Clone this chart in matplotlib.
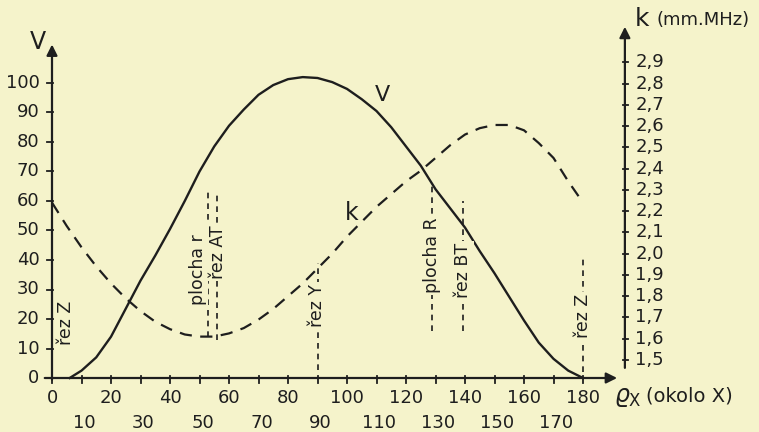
import numpy as np
from matplotlib import pyplot as plt

# V curve (left axis)
v_x = [6, 10, 15, 20, 25, 30, 35, 40, 45, 50, 55, 60, 65, 70, 75, 80, 85, 90,
       95, 100, 105, 110, 115, 120, 125, 130, 135, 140, 145, 150, 155, 160,
       165, 170, 175, 180]
v_y = [0, 2.5, 7, 14, 23.5, 33, 41.5, 50.5, 60, 70, 78.5, 85.5, 91, 96, 99.3,
       101.3, 102, 101.7, 100.3, 98, 94.5, 90.5, 85, 78.5, 72, 64, 57.5, 51,
       43, 35.5, 27.5, 19.5, 12, 6.5, 2.5, 0]

# k curve (right axis, mm.MHz)
k_x = [0, 5, 10, 15, 20, 25, 30, 35, 40, 45, 50, 55, 60, 65, 70, 75, 80, 85,
       90, 95, 100, 105, 110, 115, 120, 125, 130, 135, 140, 145, 150, 155,
       160, 165, 170, 175, 179]
k_y = [2.24, 2.13, 2.03, 1.94, 1.86, 1.79, 1.73, 1.68, 1.645, 1.62, 1.61, 1.61,
       1.625, 1.65, 1.69, 1.74, 1.80, 1.86, 1.93, 2.0, 2.08, 2.15, 2.22, 2.28,
       2.34, 2.39, 2.45, 2.51, 2.56, 2.59, 2.605, 2.605, 2.58, 2.52, 2.45,
       2.34, 2.26]

# cut markers: line position, label, label position, line from/to (V units)
cut_x = [52.9, 55.9, 90, 128.8, 139.4, 180]
cut_labels = ['plocha r', 'řez AT', 'řez Y', 'plocha R', 'řez BT', 'řez Z']
cut_text_x = [49.4, 56.2, 90, 128.8, 139.4, 180]
cut_lo = [13.9, 12.9, 2.7, 16, 16, 2]
cut_hi = [63, 63, 39, 66, 60, 40.7]
cut_mid = [36.6, 42.7, 24.7, 41.7, 36.6, 21]

v_ticks = [0, 10, 20, 30, 40, 50, 60, 70, 80, 90, 100]
k_ticks = [1.5, 1.6, 1.7, 1.8, 1.9, 2.0, 2.1, 2.2, 2.3, 2.4, 2.5, 2.6, 2.7, 2.8, 2.9]
x_ticks = list(range(0, 190, 10))

bg = '#f5f3cb'
ink = '#1e1e1e'
X_RIGHT = 194.2  # where the k axis stands


def k2v(k):
    return 6.1 + (np.asarray(k) - 1.5) * 72.1


fig = plt.figure(figsize=(7.59, 4.32), dpi=100, facecolor=bg)
ax = fig.add_axes([0, 0, 1, 1])
ax.set_facecolor(bg)
ax.set_xlim(-52 / 2.95, (759 - 52) / 2.95)
ax.set_ylim(-54 / 2.95, (432 - 54) / 2.95)
ax.axis('off')

font = dict(family='DejaVu Sans', color=ink)

# axes with arrows
arrow = dict(arrowstyle='-|>', lw=1.6, color=ink, mutation_scale=16)
ax.annotate('', xy=(0, 114), xytext=(0, -1.5), arrowprops=arrow)
ax.annotate('', xy=(192.5, 0), xytext=(-3.4, 0), arrowprops=arrow)
ax.annotate('', xy=(X_RIGHT, 120), xytext=(X_RIGHT, k2v(1.45)), arrowprops=arrow)

# left ticks
for v in v_ticks:
    ax.plot([-1.8, 0.4], [v, v], color=ink, lw=1.3)
    ax.text(-4.2, v, str(v), ha='right', va='center', fontsize=13, **font)

# right ticks
for k in k_ticks:
    yv = k2v(k)
    ax.plot([X_RIGHT - 0.7, X_RIGHT + 1.2], [yv, yv], color=ink, lw=1.3)
    ax.text(X_RIGHT + 3.5, yv, f'{k:.1f}'.replace('.', ','), ha='left',
            va='center', fontsize=13, **font)

# bottom ticks, two rows of labels
for t in x_ticks:
    ax.plot([t, t], [-1.8, 0.6], color=ink, lw=1.3)
    if t % 20 == 0:
        ax.text(t, -6.8, str(t), ha='center', va='center', fontsize=13, **font)
    else:
        ax.text(t + 1, -15.2, str(t), ha='center', va='center', fontsize=13, **font)

# curves
ax.plot(v_x, v_y, color=ink, lw=1.7, solid_joinstyle='round')
ax.plot(k_x, k2v(k_y), color=ink, lw=1.6, dashes=(5.5, 3.8))

# cut lines with labels
for x, lab, tx, lo, hi, mid in zip(cut_x, cut_labels, cut_text_x, cut_lo,
                                   cut_hi, cut_mid):
    ax.plot([x, x], [lo, hi], color=ink, lw=1.2, dashes=(3.4, 3.0))
    ax.text(tx, mid, lab, rotation=90, ha='center', va='center', fontsize=12.5,
            bbox=dict(boxstyle='square,pad=0.1', fc=bg, ec='none'), **font)
ax.text(4.6, 18.6, 'řez Z', rotation=90, ha='center', va='center',
        fontsize=12.5, **font)

# axis names and curve names
ax.text(-4.8, 114, 'V', ha='center', va='center', fontsize=17, **font)
ax.text(112, 96, 'V', ha='center', va='center', fontsize=16, **font)
ax.text(101.5, 56, 'k', ha='center', va='center', fontsize=17, **font)
ax.text(197.5, 121.8, 'k', ha='left', va='center', fontsize=18, **font)
ax.text(205, 121.5, '(mm.MHz)', ha='left', va='center', fontsize=13, **font)
ax.text(190.5, -6.5, r'$\varrho_{\mathrm{X}}$', ha='left', va='center',
        fontsize=17, color=ink)
ax.text(201.5, -6, '(okolo X)', ha='left', va='center', fontsize=14, **font)

plt.savefig('out.png', dpi=100, facecolor=bg)
